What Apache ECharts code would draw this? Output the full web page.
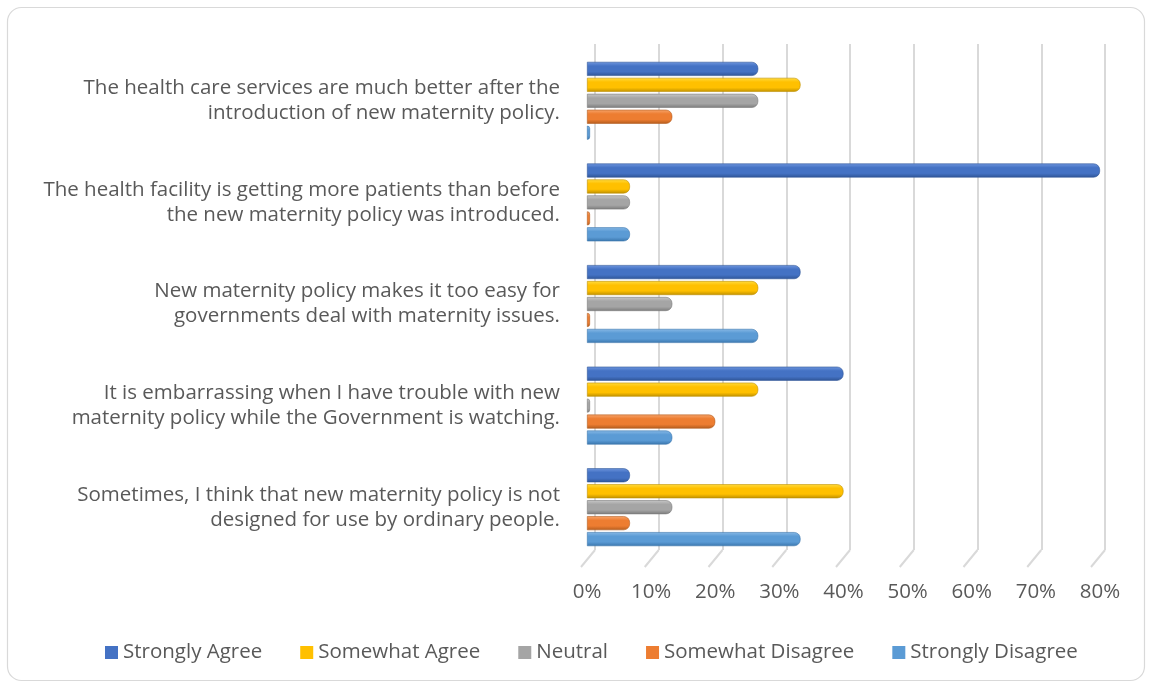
<!DOCTYPE html>
<html>
<head>
<meta charset="utf-8">
<script src="https://cdn.jsdelivr.net/npm/echarts@6/dist/echarts.min.js"></script>
<style>
  html, body { margin: 0; padding: 0; background: #fff; }
  #chart { width: 1152px; height: 688px; }
</style>
</head>
<body>
<div id="chart"></div>
<script>
// Survey statements (top to bottom)
const categories = [
  'The health care services are much better after the\nintroduction of new maternity policy.',
  'The health facility is getting more patients than before\nthe new maternity policy was introduced.',
  'New maternity policy makes it too easy for\ngovernments deal with maternity issues.',
  'It is embarrassing when I have trouble with new\nmaternity policy while the Government is watching.',
  'Sometimes, I think that new maternity policy is not\ndesigned for use by ordinary people.'
];

// Share of respondents (%) per statement
const stronglyAgree     = [26.7, 80.0, 33.3, 40.0, 6.7];
const somewhatAgree     = [33.3, 6.7, 26.7, 26.7, 40.0];
const neutral           = [26.7, 6.7, 13.3, 0, 13.3];
const somewhatDisagree  = [13.3, 0, 0, 20.0, 6.7];
const stronglyDisagree  = [0, 6.7, 26.7, 13.3, 33.3];

// Percent ticks along the value axis
const tickValues = [0, 10, 20, 30, 40, 50, 60, 70, 80];

const seriesDefs = [
  { name: 'Strongly Agree',    data: stronglyAgree,    color: '#4472C4', light: '#6f96de', dark: '#2f5597' },
  { name: 'Somewhat Agree',    data: somewhatAgree,    color: '#FFC000', light: '#ffdc40', dark: '#bf9000' },
  { name: 'Neutral',           data: neutral,          color: '#A5A5A5', light: '#c8c8c8', dark: '#7b7b7b' },
  { name: 'Somewhat Disagree', data: somewhatDisagree, color: '#ED7D31', light: '#f7a56c', dark: '#b35c1e' },
  { name: 'Strongly Disagree', data: stronglyDisagree, color: '#5B9BD5', light: '#88b9e6', dark: '#3a76ad' }
];

const FONT = 'Open Sans';
const FS = 20.5;
const GRID_COLOR = '#d9d9d9';
const chart = echarts.init(document.getElementById('chart'));

function cylinder(d) {
  return new echarts.graphic.LinearGradient(0, 0, 0, 1, [
    { offset: 0, color: d.light },
    { offset: 0.3, color: d.color },
    { offset: 0.7, color: d.color },
    { offset: 1, color: d.dark }
  ]);
}

const barSeries = seriesDefs.map(d => ({
  name: d.name,
  type: 'bar',
  xAxisIndex: 0,
  yAxisIndex: 0,
  data: d.data,
  barWidth: 14,
  barGap: '14%',
  barMinHeight: 3,
  itemStyle: {
    color: cylinder(d),
    borderRadius: [0, 6, 6, 0],
    borderColor: d.dark,
    borderWidth: 0.6
  }
}));

// Slanted floor strokes where each back-wall gridline meets the floor
const floorSeries = {
  type: 'custom',
  xAxisIndex: 1,
  yAxisIndex: 1,
  silent: true,
  data: tickValues.map(v => [v]),
  renderItem: function (params, api) {
    const x = api.coord([api.value(0), 0])[0];
    const cs = params.coordSys;
    const yb = cs.y + cs.height;
    return {
      type: 'line',
      shape: { x1: x, y1: yb, x2: x - 14, y2: yb + 17 },
      style: { stroke: GRID_COLOR, lineWidth: 2 }
    };
  },
  z: 0
};

const option = {
  backgroundColor: '#fff',
  animation: false,
  textStyle: { fontFamily: FONT },
  graphic: [{
    type: 'rect',
    shape: { x: 7.5, y: 7.5, width: 1137, height: 673, r: 14 },
    style: { fill: 'none', stroke: '#d9d9d9', lineWidth: 1.2 },
    z: -10
  }],
  legend: {
    bottom: 20,
    left: 100,
    itemWidth: 13,
    itemHeight: 13,
    itemGap: 38,
    icon: 'rect',
    itemStyle: { borderWidth: 0 },
    textStyle: { fontSize: FS, color: '#595959', fontFamily: FONT },
    data: seriesDefs.map(d => ({ name: d.name, itemStyle: { color: d.color, borderWidth: 0 } }))
  },
  grid: [
    // front plane: bars and tick labels
    { left: 587, right: 52, top: 50, bottom: 130 },
    // back wall: gridlines set slightly up and to the right
    { left: 595, right: 47, top: 44, bottom: 138 }
  ],
  xAxis: [
    {
      type: 'value', gridIndex: 0, min: 0, max: 80, interval: 10,
      axisLine: { show: false }, axisTick: { show: false }, splitLine: { show: false },
      axisLabel: { formatter: '{value}%', fontSize: FS, color: '#595959', margin: 24, fontFamily: FONT }
    },
    {
      type: 'value', gridIndex: 1, min: 0, max: 80, interval: 10,
      axisLine: { show: false }, axisTick: { show: false }, axisLabel: { show: false },
      splitLine: { show: true, lineStyle: { color: GRID_COLOR, width: 2 } }
    }
  ],
  yAxis: [
    {
      type: 'category', gridIndex: 0, data: categories, inverse: true,
      axisLine: { show: false }, axisTick: { show: false },
      axisLabel: { fontSize: FS, color: '#595959', lineHeight: 25, margin: 27, align: 'right', fontFamily: FONT }
    },
    {
      type: 'category', gridIndex: 1, data: categories, inverse: true, show: false
    }
  ],
  series: barSeries.concat([floorSeries])
};

chart.setOption(option);
</script>
</body>
</html>
